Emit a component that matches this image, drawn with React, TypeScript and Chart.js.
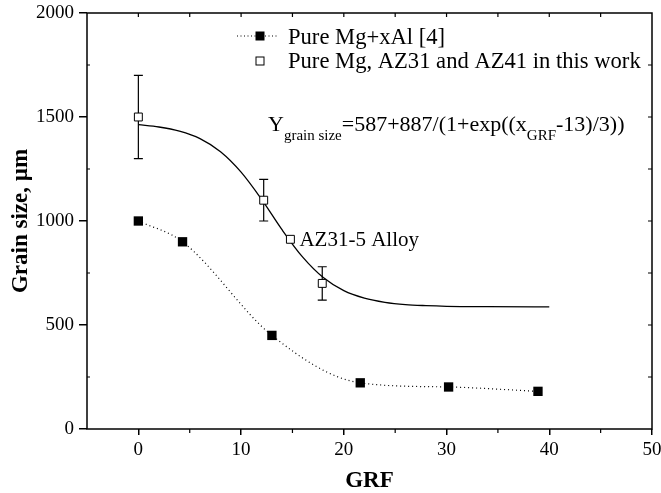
import React, { useEffect, useRef } from "react";
import { Chart, registerables } from "chart.js";

Chart.register(...registerables);

// ---- data ----
const xTicks = [0, 10, 20, 30, 40, 50];
const yTicks = [0, 500, 1000, 1500, 2000];
const xMinorTicks = [5, 15, 25, 35, 45];
const yMinorTicks = [250, 750, 1250, 1750];

const mgAlX = [0, 4.3, 13.0, 21.6, 30.2, 38.9];
const mgAlY = [1000, 900, 450, 222, 202, 181];

const workX = [0, 12.2, 14.8, 17.9];
const workY = [1500, 1100, 912, 700];
const workErrLow: (number | null)[] = [1300, 1000, null, 620];
const workErrHigh: (number | null)[] = [1700, 1200, null, 780];

const fitX = [0, 2, 4, 6, 8, 10, 12, 14, 16, 18, 20, 22, 24, 26, 28, 30, 34, 40];
const fitY = [1463, 1452, 1432, 1396, 1333, 1235, 1104, 957, 826, 728, 665, 629, 609, 598, 593, 590, 588, 587];

const legendLabels = ["Pure Mg+xAl [4]", "Pure Mg, AZ31 and AZ41 in this work"];
const annotationLabel = "AZ31-5 Alloy";
const annotationIndex = 2;
const eqParts: [string, boolean][] = [
  ["Y", false],
  ["grain size", true],
  ["=587+887/(1+exp((x", false],
  ["GRF", true],
  ["-13)/3))", false],
];
const xTitle = "GRF";
const yTitle = "Grain size, \u00b5m";

const FONT = '"Liberation Serif", "Times New Roman", Times, serif';

const decor = {
  id: "decor",
  beforeDatasetsDraw(chart: any) {
    const ctx = chart.ctx;
    const xs = chart.scales.x;
    const ys = chart.scales.y;
    ctx.save();
    ctx.strokeStyle = "#000";
    ctx.lineWidth = 1.2;
    workX.forEach((xv, i) => {
      const lo = workErrLow[i];
      const hi = workErrHigh[i];
      if (lo == null || hi == null) return;
      const px = xs.getPixelForValue(xv);
      const pl = ys.getPixelForValue(lo);
      const ph = ys.getPixelForValue(hi);
      ctx.beginPath();
      ctx.moveTo(px, pl);
      ctx.lineTo(px, ph);
      ctx.moveTo(px - 4.5, pl);
      ctx.lineTo(px + 4.5, pl);
      ctx.moveTo(px - 4.5, ph);
      ctx.lineTo(px + 4.5, ph);
      ctx.stroke();
    });
    ctx.restore();
  },
  afterDraw(chart: any) {
    const ctx = chart.ctx;
    const xs = chart.scales.x;
    const ys = chart.scales.y;
    const { left, right, top, bottom } = chart.chartArea;
    ctx.save();
    ctx.strokeStyle = "#000";
    ctx.lineWidth = 1.5;
    ctx.strokeRect(left, top, right - left, bottom - top);
    ctx.lineWidth = 1.2;
    ctx.beginPath();
    xMinorTicks.forEach((v) => {
      const px = xs.getPixelForValue(v);
      ctx.moveTo(px, bottom);
      ctx.lineTo(px, bottom + 4);
    });
    [...xTicks, ...xMinorTicks].forEach((v) => {
      const px = xs.getPixelForValue(v);
      if (px <= left + 1 || px >= right - 1) return;
      ctx.moveTo(px, top);
      ctx.lineTo(px, top + 4);
    });
    yMinorTicks.forEach((v) => {
      const py = ys.getPixelForValue(v);
      ctx.moveTo(left, py);
      ctx.lineTo(left + 3, py);
    });
    [...yTicks, ...yMinorTicks].forEach((v) => {
      const py = ys.getPixelForValue(v);
      if (py <= top + 1 || py >= bottom - 1) return;
      ctx.moveTo(right, py);
      ctx.lineTo(right - 4, py);
    });
    ctx.stroke();

    // legend
    ctx.fillStyle = "#000";
    ctx.lineWidth = 1.2;
    ctx.setLineDash([1, 2.5]);
    ctx.beginPath();
    ctx.moveTo(237, 36);
    ctx.lineTo(277, 36);
    ctx.stroke();
    ctx.setLineDash([]);
    ctx.fillRect(255.5, 31.5, 9, 9);
    ctx.fillStyle = "#fff";
    ctx.fillRect(256, 57, 8, 8);
    ctx.lineWidth = 1;
    ctx.strokeRect(256, 57, 8, 8);
    ctx.fillStyle = "#000";
    ctx.font = `22.6px ${FONT}`;
    ctx.textAlign = "left";
    ctx.textBaseline = "alphabetic";
    ctx.fillText(legendLabels[0], 288, 44);
    ctx.fillText(legendLabels[1], 288, 68);

    // equation
    let ex = 268;
    eqParts.forEach(([t, sub]) => {
      ctx.font = sub ? `15px ${FONT}` : `22px ${FONT}`;
      ctx.fillText(t, ex, sub ? 139.5 : 131);
      ex += ctx.measureText(t).width;
    });

    // annotation
    const ax = xs.getPixelForValue(workX[annotationIndex]);
    const ay = ys.getPixelForValue(workY[annotationIndex]);
    ctx.font = `21px ${FONT}`;
    ctx.fillText(annotationLabel, ax + 9, ay + 6.5);
    ctx.restore();
  },
};

export default function App() {
  const ref = useRef<HTMLCanvasElement | null>(null);
  useEffect(() => {
    document.body.style.margin = "0";
    const canvas = ref.current!;
    const chart = new Chart(canvas, {
      type: "scatter",
      data: {
        datasets: [
          {
            label: legendLabels[1],
            data: workX.map((x, i) => ({ x, y: workY[i] })),
            showLine: false,
            pointStyle: "rect",
            pointRadius: 5.6,
            pointBackgroundColor: "#fff",
            pointBorderColor: "#000",
            pointBorderWidth: 1,
            order: 0,
          },
          {
            label: "fit",
            data: fitX.map((x, i) => ({ x, y: fitY[i] })),
            showLine: true,
            pointRadius: 0,
            borderColor: "#000",
            borderWidth: 1.3,
            cubicInterpolationMode: "monotone",
            order: 2,
          },
          {
            label: legendLabels[0],
            data: mgAlX.map((x, i) => ({ x, y: mgAlY[i] })),
            showLine: true,
            borderColor: "#000",
            borderWidth: 1.2,
            borderDash: [1, 3],
            cubicInterpolationMode: "monotone",
            pointStyle: "rect",
            pointRadius: 6.6,
            pointBackgroundColor: "#000",
            pointBorderColor: "#000",
            pointBorderWidth: 0,
            order: 1,
          },
        ] as any,
      },
      options: {
        animation: false,
        responsive: false,
        devicePixelRatio: 1,
        layout: { padding: { top: 13, right: 9, left: 0, bottom: 0 } },
        plugins: { legend: { display: false }, tooltip: { enabled: false } },
        scales: {
          x: {
            type: "linear",
            min: -5,
            max: 50,
            afterBuildTicks: (s: any) => {
              s.ticks = xTicks.map((v) => ({ value: v }));
            },
            afterFit: (s: any) => {
              s.height = 64;
              s.paddingLeft = 0;
              s.paddingRight = 0;
            },
            grid: { display: true, drawOnChartArea: false, drawTicks: true, tickLength: 6, color: "#000", lineWidth: 1.5 },
            border: { display: false },
            ticks: {
              color: "#000",
              font: { family: FONT, size: 19 },
              padding: 4,
              maxRotation: 0,
              autoSkip: false,
              callback: (v: any) => String(v),
            },
            title: {
              display: true,
              text: xTitle,
              color: "#000",
              font: { family: FONT, size: 23, weight: "bold", lineHeight: 1 },
              padding: { top: 0, bottom: 0 },
            },
          },
          y: {
            type: "linear",
            min: 0,
            max: 2000,
            afterBuildTicks: (s: any) => {
              s.ticks = yTicks.map((v) => ({ value: v }));
            },
            afterFit: (s: any) => {
              s.width = 87;
              s.paddingTop = 0;
              s.paddingBottom = 0;
            },
            grid: { display: true, drawOnChartArea: false, drawTicks: true, tickLength: 8, color: "#000", lineWidth: 1.5 },
            border: { display: false },
            ticks: {
              color: "#000",
              font: { family: FONT, size: 19 },
              padding: 5,
              callback: (v: any) => String(v),
            },
            title: {
              display: true,
              text: yTitle,
              color: "#000",
              font: { family: FONT, size: 23, weight: "bold", lineHeight: 1 },
              padding: { top: 10, bottom: 0 },
            },
          },
        },
      } as any,
      plugins: [decor],
    });
    return () => chart.destroy();
  }, []);
  return <canvas ref={ref} width={661} height={493} style={{ display: "block" }} />;
}
